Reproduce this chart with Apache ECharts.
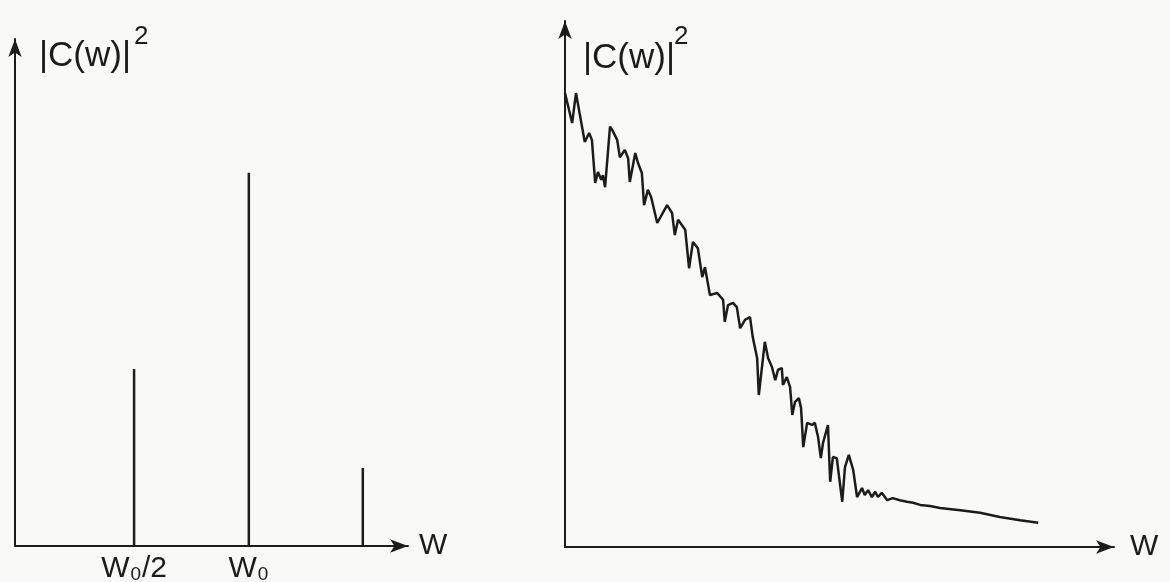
<!DOCTYPE html>
<html>
<head>
<meta charset="utf-8">
<script src="https://cdn.jsdelivr.net/npm/echarts@6/dist/echarts.min.js"></script>
<style>
  html, body { margin: 0; padding: 0; background: #f9faf7; }
  #chart { width: 1170px; height: 582px; }
</style>
</head>
<body>
<div id="chart"></div>
<script>
// ---- Data ----
// Left panel: discrete spectral lines
const lineFreqs = [30.3, 59.5, 88.5];
const lineHeights = [34.9, 73.6, 15.4];
const tickValues = [30.3, 59.5];
const tickLabels = ['W\u2080/2', 'W\u2080'];

// Right panel: continuous (noisy) spectrum
const specFreq = [0, 1.3, 2.0, 3.6, 4.4, 4.9, 5.5, 6.0, 6.6, 6.9, 7.3, 8.2, 8.6, 9.5, 10.0, 10.9, 11.5, 11.8, 12.8, 13.3, 14.0, 14.4, 15.1, 15.7, 16.8, 18.6, 19.5, 20.0, 20.6, 21.9, 22.6, 23.3, 24.2, 25.0, 25.5, 26.4, 27.7, 28.8, 29.1, 29.7, 30.6, 31.3, 31.9, 32.8, 33.7, 34.2, 35.0, 35.3, 36.4, 37.0, 37.7, 38.3, 38.8, 39.5, 39.7, 40.4, 41.0, 41.4, 41.9, 42.6, 43.0, 43.4, 44.1, 45.0, 45.5, 46.1, 46.6, 47.0, 47.9, 48.3, 48.8, 49.5, 50.5, 51.0, 51.7, 52.5, 53.2, 54.1, 54.6, 55.2, 55.9, 56.5, 57.0, 57.7, 58.7, 59.7, 61.0, 62.3, 63.4, 64.7, 66.5, 68.3, 72.0, 75.6, 79.2, 82.9, 86.2];
const specPower = [86.3, 80.6, 86.3, 77.0, 78.7, 77.4, 69.2, 71.3, 69.8, 70.7, 68.4, 79.9, 79.3, 77.4, 74.1, 75.5, 73.9, 69.4, 74.9, 73.0, 71.1, 65.0, 67.9, 66.5, 61.6, 65.0, 63.5, 59.3, 62.2, 60.3, 53.0, 58.0, 56.8, 51.3, 53.2, 47.9, 48.3, 47.0, 42.8, 46.0, 46.4, 45.6, 41.6, 43.2, 43.7, 39.9, 35.9, 28.9, 39.0, 35.9, 34.2, 31.7, 33.7, 34.0, 30.8, 32.3, 30.4, 25.1, 27.6, 28.3, 26.4, 19.0, 23.6, 23.2, 23.6, 20.9, 16.9, 19.8, 23.2, 12.4, 17.1, 16.9, 8.6, 15.2, 17.5, 14.6, 9.5, 11.2, 9.9, 10.8, 9.5, 10.5, 9.5, 10.3, 8.9, 9.3, 8.9, 8.6, 8.4, 8.0, 7.8, 7.4, 7.0, 6.5, 5.7, 5.1, 4.6];

const yAxisTitle = '|C(w)|';
const yAxisPower = '2';
const xAxisTitle = 'W';

// ---- Chart ----
const ink = '#1c1c1c';
const chart = echarts.init(document.getElementById('chart'), null, { renderer: 'canvas' });

const axisLineStyle = {
  show: true,
  symbol: ['none', 'arrow'],
  symbolSize: [10, 18],
  lineStyle: { color: ink, width: 2 }
};

const baseY = {
  type: 'value', min: 0, max: 100,
  axisLine: axisLineStyle,
  axisTick: { show: false },
  axisLabel: { show: false },
  splitLine: { show: false }
};

const specData = specFreq.map((f, i) => [f, specPower[i]]);
const lineData = lineFreqs.map((f, i) => [f, lineHeights[i]]);

chart.setOption({
  backgroundColor: '#f9faf7',
  animation: false,
  grid: [
    { left: 15, top: 39, width: 393, height: 507, containLabel: false, outerBoundsMode: 'none' },
    { left: 565, top: 21, width: 549, height: 526, containLabel: false, outerBoundsMode: 'none' }
  ],
  xAxis: [
    {
      gridIndex: 0, type: 'value', min: 0, max: 100,
      axisLine: axisLineStyle,
      axisTick: { show: false },
      splitLine: { show: false },
      name: xAxisTitle, nameLocation: 'end', nameGap: 11,
      nameTextStyle: { color: ink, fontSize: 30, fontFamily: 'Liberation Sans' },
      axisLabel: {
        show: true,
        customValues: tickValues,
        formatter: function (v) {
          const idx = tickValues.findIndex(t => Math.abs(t - v) < 1e-6);
          return idx >= 0 ? tickLabels[idx] : '';
        },
        margin: 8,
        color: ink, fontSize: 30, fontFamily: 'Liberation Sans'
      }
    },
    {
      gridIndex: 1, type: 'value', min: 0, max: 100,
      axisLine: axisLineStyle,
      axisTick: { show: false },
      axisLabel: { show: false },
      splitLine: { show: false },
      name: xAxisTitle, nameLocation: 'end', nameGap: 16,
      nameTextStyle: { color: ink, fontSize: 30, fontFamily: 'Liberation Sans' }
    }
  ],
  yAxis: [
    Object.assign({ gridIndex: 0 }, baseY),
    Object.assign({ gridIndex: 1 }, baseY)
  ],
  series: [
    {
      type: 'bar', xAxisIndex: 0, yAxisIndex: 0,
      data: lineData, barWidth: 2.5,
      itemStyle: { color: ink }
    },
    {
      type: 'line', xAxisIndex: 1, yAxisIndex: 1,
      data: specData, showSymbol: false, smooth: false,
      lineStyle: { color: ink, width: 2.5 }
    }
  ],
  graphic: [
    { type: 'text', left: 39, top: 39, style: { text: yAxisTitle, fill: ink, font: '35px "Liberation Sans"' } },
    { type: 'text', left: 134, top: 24, style: { text: yAxisPower, fill: ink, font: '26px "Liberation Sans"' } },
    { type: 'text', left: 583, top: 41, style: { text: yAxisTitle, fill: ink, font: '35px "Liberation Sans"' } },
    { type: 'text', left: 674, top: 24, style: { text: yAxisPower, fill: ink, font: '26px "Liberation Sans"' } }
  ]
});
</script>
</body>
</html>
